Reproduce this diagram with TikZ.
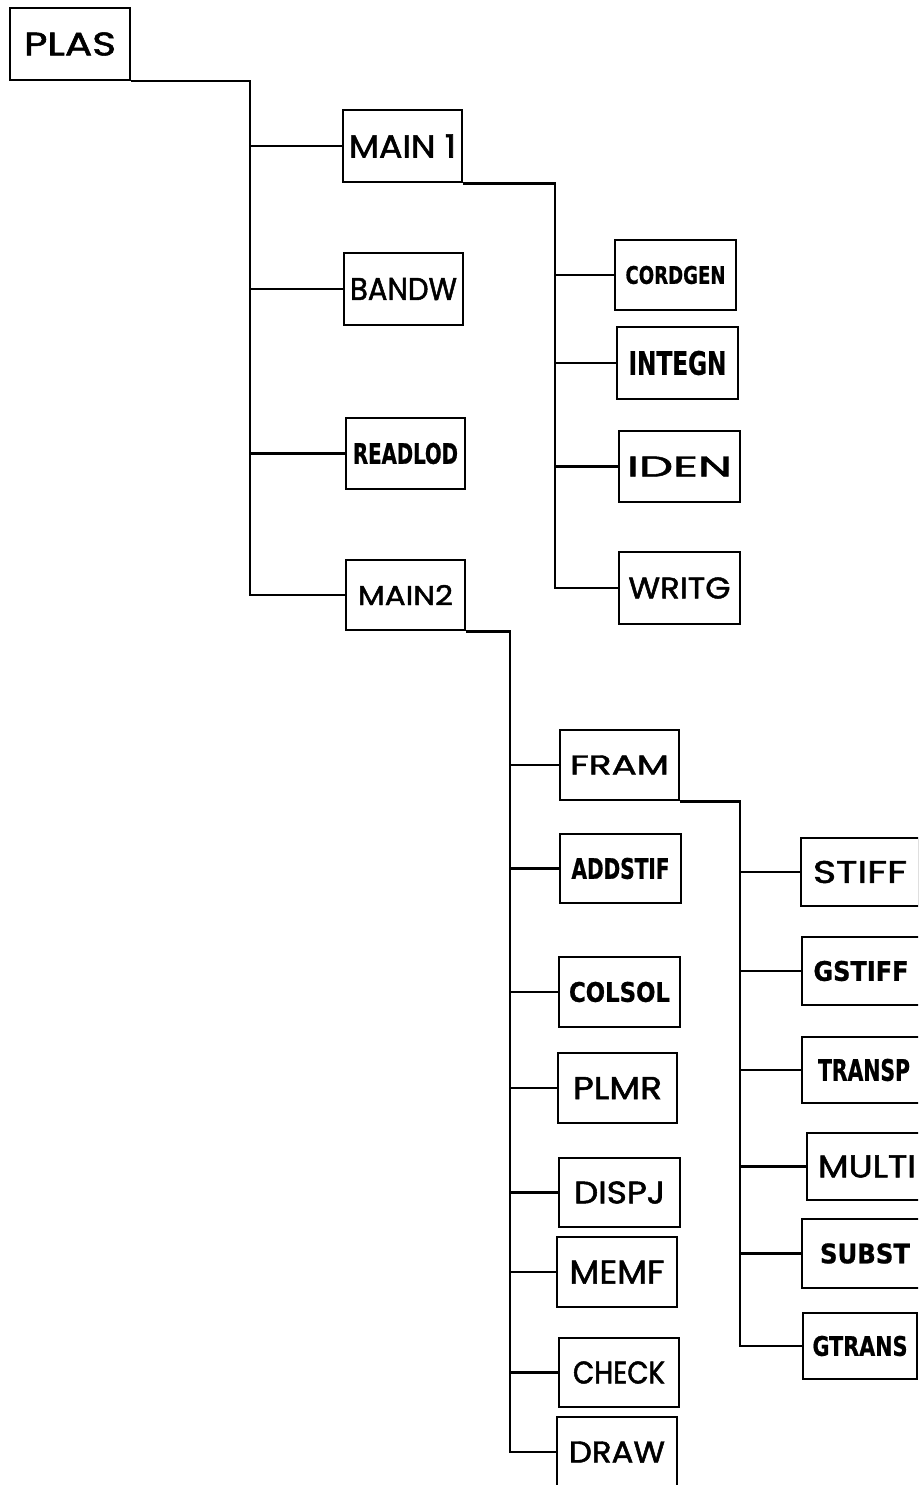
\documentclass[tikz,border=0pt]{standalone}
\usepackage{fontspec}
\usepackage{graphicx}
\newfontfamily\geofont{Poppins}[FakeBold=1.6]
\newfontfamily\condfont{DejaVu Sans Condensed}[BoldFeatures={FakeBold=0.8}]
\newcommand{\gl}[3]{\resizebox{#1pt}{#2pt}{\geofont #3}}
\newcommand{\cl}[3]{\resizebox{#1pt}{#2pt}{\condfont\bfseries #3}}
\begin{document}
\begin{tikzpicture}[x=1pt,y=-1pt,
  box/.style={draw, line width=2.4pt, rectangle, inner sep=0pt, minimum width=120pt, minimum height=70pt},
  conn/.style={line width=2.6pt}]
\useasboundingbox (0,0) rectangle (918,1485);
\clip (0,0) rectangle (918,1485);
% level 0
\node[box, minimum width=120pt, minimum height=72pt] (plas) at (70,44) {\gl{92}{23}{PLAS}};
% level 1
\node[box, minimum width=119pt, minimum height=72pt] (main1) at (402.5,146) {\gl{107}{23}{MAIN 1}};
\node[box, minimum width=119pt, minimum height=72pt] (bandw) at (403.5,289) {\gl{107}{22}{BANDW}};
\node[box, minimum width=119pt, minimum height=71pt] (readlod) at (405.5,453.5) {\cl{105}{21}{READLOD}};
\node[box, minimum width=119pt, minimum height=70pt] (main2) at (405.5,595) {\gl{95}{20}{MAIN2}};
% level 2 under MAIN1
\node[box, minimum width=121pt, minimum height=70pt] (cordgen) at (675.5,275) {\cl{100}{18}{CORDGEN}};
\node[box, minimum width=121pt, minimum height=72pt] (integn) at (677.5,363) {\cl{98}{24}{INTEGN}};
\node[box, minimum width=121pt, minimum height=71pt] (iden) at (679.5,466.5) {\gl{105}{20}{IDEN}};
\node[box, minimum width=121pt, minimum height=72pt] (writg) at (679.5,588) {\gl{102}{21}{WRITG}};
% level 2 under MAIN2
\node[box, minimum width=119pt, minimum height=70pt] (fram) at (619.5,765) {\gl{99}{19}{FRAM}};
\node[box, minimum width=121pt, minimum height=69pt] (addstif) at (620.5,868.5) {\cl{98}{21}{ADDSTIF}};
\node[box, minimum width=121pt, minimum height=70pt] (colsol) at (619.5,992) {\cl{101}{20}{COLSOL}};
\node[box, minimum width=119pt, minimum height=70pt] (plmr) at (617.5,1088) {\gl{89}{22}{PLMR}};
\node[box, minimum width=121pt, minimum height=69pt] (dispj) at (619.5,1192.5) {\gl{91}{22}{DISPJ}};
\node[box, minimum width=120pt, minimum height=70pt] (memf) at (617,1272) {\gl{95}{23}{MEMF}};
\node[box, minimum width=120pt, minimum height=69pt] (check) at (619,1372.5) {\gl{92}{22}{CHECK}};
\node[box, minimum width=120pt, minimum height=70pt] (drawn) at (617,1452) {\gl{96}{21}{DRAW}};
% level 3 under FRAM
\node[box, minimum width=118pt, minimum height=68pt] (stiff) at (860,872) {\gl{94}{22}{STIFF}};
\node[box, minimum width=118pt, minimum height=68pt] (gstiff) at (861,971) {\cl{95}{20}{GSTIFF}};
\node[box, minimum width=124pt, minimum height=66pt] (transp) at (864,1070) {\cl{92}{22}{TRANSP}};
\node[box, minimum width=120pt, minimum height=67pt] (multi) at (867,1166.5) {\gl{98}{22}{MULTI}};
\node[box, minimum width=126pt, minimum height=69pt] (subst) at (865,1253.5) {\cl{90}{20}{SUBST}};
\node[box, minimum width=114pt, minimum height=66pt] (gtrans) at (860,1346) {\cl{95}{20}{GTRANS}};
% spine coordinates
\coordinate (s1) at (250,0);
\coordinate (s2) at (555,0);
\coordinate (s3) at (510,0);
\coordinate (s4) at (740,0);
% connectors
\draw[conn] (plas.south east) -| (s1 |- main2.west) -- (main2.west);
\foreach \n in {main1,bandw,readlod} \draw[conn] (\n.west) -- (\n.west -| s1);
\draw[conn] (main1.south east) -| (s2 |- writg.west) -- (writg.west);
\foreach \n in {cordgen,integn,iden} \draw[conn] (\n.west) -- (\n.west -| s2);
\draw[conn] (main2.south east) -| (s3 |- drawn.west) -- (drawn.west);
\foreach \n in {fram,addstif,colsol,plmr,dispj,memf,check} \draw[conn] (\n.west) -- (\n.west -| s3);
\draw[conn] (fram.south east) -| (s4 |- gtrans.west) -- (gtrans.west);
\foreach \n in {stiff,gstiff,transp,multi,subst} \draw[conn] (\n.west) -- (\n.west -| s4);
\end{tikzpicture}
\end{document}
